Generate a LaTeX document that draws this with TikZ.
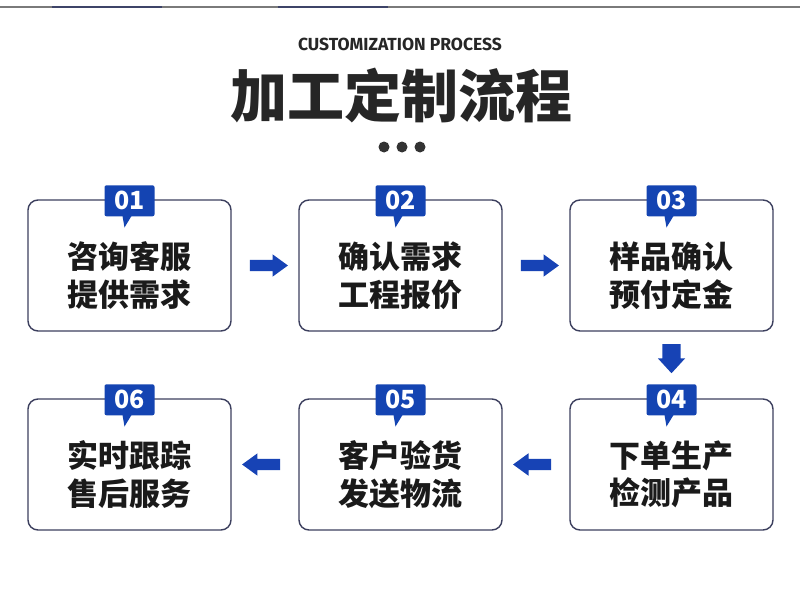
\documentclass[tikz,border=0pt]{standalone}
\usepackage{fontspec}
\newfontfamily\cjk{Noto Sans CJK SC}
\newfontfamily\latinf{Fira Sans}
\usetikzlibrary{shapes.arrows}
\definecolor{badgeblue}{HTML}{1444B2}
\definecolor{arrowblue}{HTML}{1743B5}
\definecolor{boxline}{HTML}{3C3F5E}
\definecolor{txt}{HTML}{1A1A1A}
\definecolor{topline}{HTML}{7A7A7A}
\definecolor{topdark}{HTML}{3E4468}
\tikzset{
  stepbox/.style={draw=boxline, line width=1.4pt, rounded corners=10pt, minimum width=203pt, minimum height=131pt, inner sep=0pt},
  steptext/.style={text=txt, font=\cjk\bfseries\fontsize{31}{37.5}\selectfont, align=center, inner sep=0pt},
  badge/.style={fill=badgeblue, rounded corners=2pt, minimum width=50pt, minimum height=31pt, inner sep=0pt, text=white, font=\cjk\bfseries\fontsize{25}{25}\selectfont},
  harrow/.style={single arrow, fill=arrowblue, draw=none, minimum height=38pt, inner sep=5.5pt, single arrow head extend=5.5pt, single arrow tip angle=72, anchor=center},
  varrow/.style={single arrow, fill=arrowblue, draw=none, minimum height=29pt, inner sep=9pt, single arrow head extend=4.5pt, single arrow tip angle=85, anchor=center, shape border rotate=270},
  dotc/.style={circle, fill=black!80, minimum size=11pt, inner sep=0pt}
}
\newcommand{\badgetail}[1]{\fill[badgeblue] ([xshift=-7pt,yshift=0.5pt]#1.south) -- ([xshift=2pt,yshift=0.5pt]#1.south) -- ([xshift=-5pt,yshift=-11pt]#1.south) -- cycle;}
\begin{document}
\begin{tikzpicture}[x=1pt,y=-1pt]
\useasboundingbox[fill=white] (0,0) rectangle (800,599);
% top strip
\draw[topline, line width=2pt] (0,7.5) -- (800,7.5);
\draw[topdark, line width=2pt] (52,7.5) -- (162,7.5);
\draw[topdark, line width=2pt] (278,7.5) -- (388,7.5);
% titles
\node[text=black!85, font=\latinf\bfseries\fontsize{17.5}{18}\selectfont, inner sep=0pt] (sub) at (400,44) {CUSTOMIZATION PROCESS};
\node[text=black!85, font=\cjk\bfseries\fontsize{57}{57}\selectfont, inner sep=0pt] (title) at (401,95) {加工定制流程};
\node[dotc] (d1) at (384,147) {};
\node[dotc] (d2) at (402,147) {};
\node[dotc] (d3) at (420,147) {};
% boxes
\node[stepbox] (b1) at (129.5,265.5) {};
\node[stepbox] (b2) at (400.5,265.5) {};
\node[stepbox] (b3) at (671.5,265.5) {};
\node[stepbox] (b4) at (671.5,464.5) {};
\node[stepbox] (b5) at (400.5,464.5) {};
\node[stepbox] (b6) at (129.5,464.5) {};
% texts
\node[steptext] (t1) at ([yshift=-10pt]b1.center) {咨询客服\\提供需求};
\node[steptext] (t2) at ([yshift=-10pt]b2.center) {确认需求\\工程报价};
\node[steptext] (t3) at ([yshift=-10pt]b3.center) {样品确认\\预付定金};
\node[steptext] (t4) at ([yshift=-10pt]b4.center) {下单生产\\检测产品};
\node[steptext] (t5) at ([yshift=-10pt]b5.center) {客户验货\\发送物流};
\node[steptext] (t6) at ([yshift=-10pt]b6.center) {实时跟踪\\售后服务};
% badges
\foreach \i/\n in {1/01,2/02,3/03,4/04,5/05,6/06}{
  \node[badge] (n\i) at ([yshift=-1.5pt]b\i.north) {\n};
  \badgetail{n\i}
}
% arrows
\path (b1.east) -- (b2.west) node[midway, harrow] (a12) {};
\path (b2.east) -- (b3.west) node[midway, harrow] (a23) {};
\path (b3.south) -- (n4.north) node[pos=0.42, varrow] (a34) {};
\path (b4.west) -- (b5.east) node[midway, harrow, shape border rotate=180] (a45) {};
\path (b5.west) -- (b6.east) node[midway, harrow, shape border rotate=180] (a56) {};
\end{tikzpicture}
\end{document}
